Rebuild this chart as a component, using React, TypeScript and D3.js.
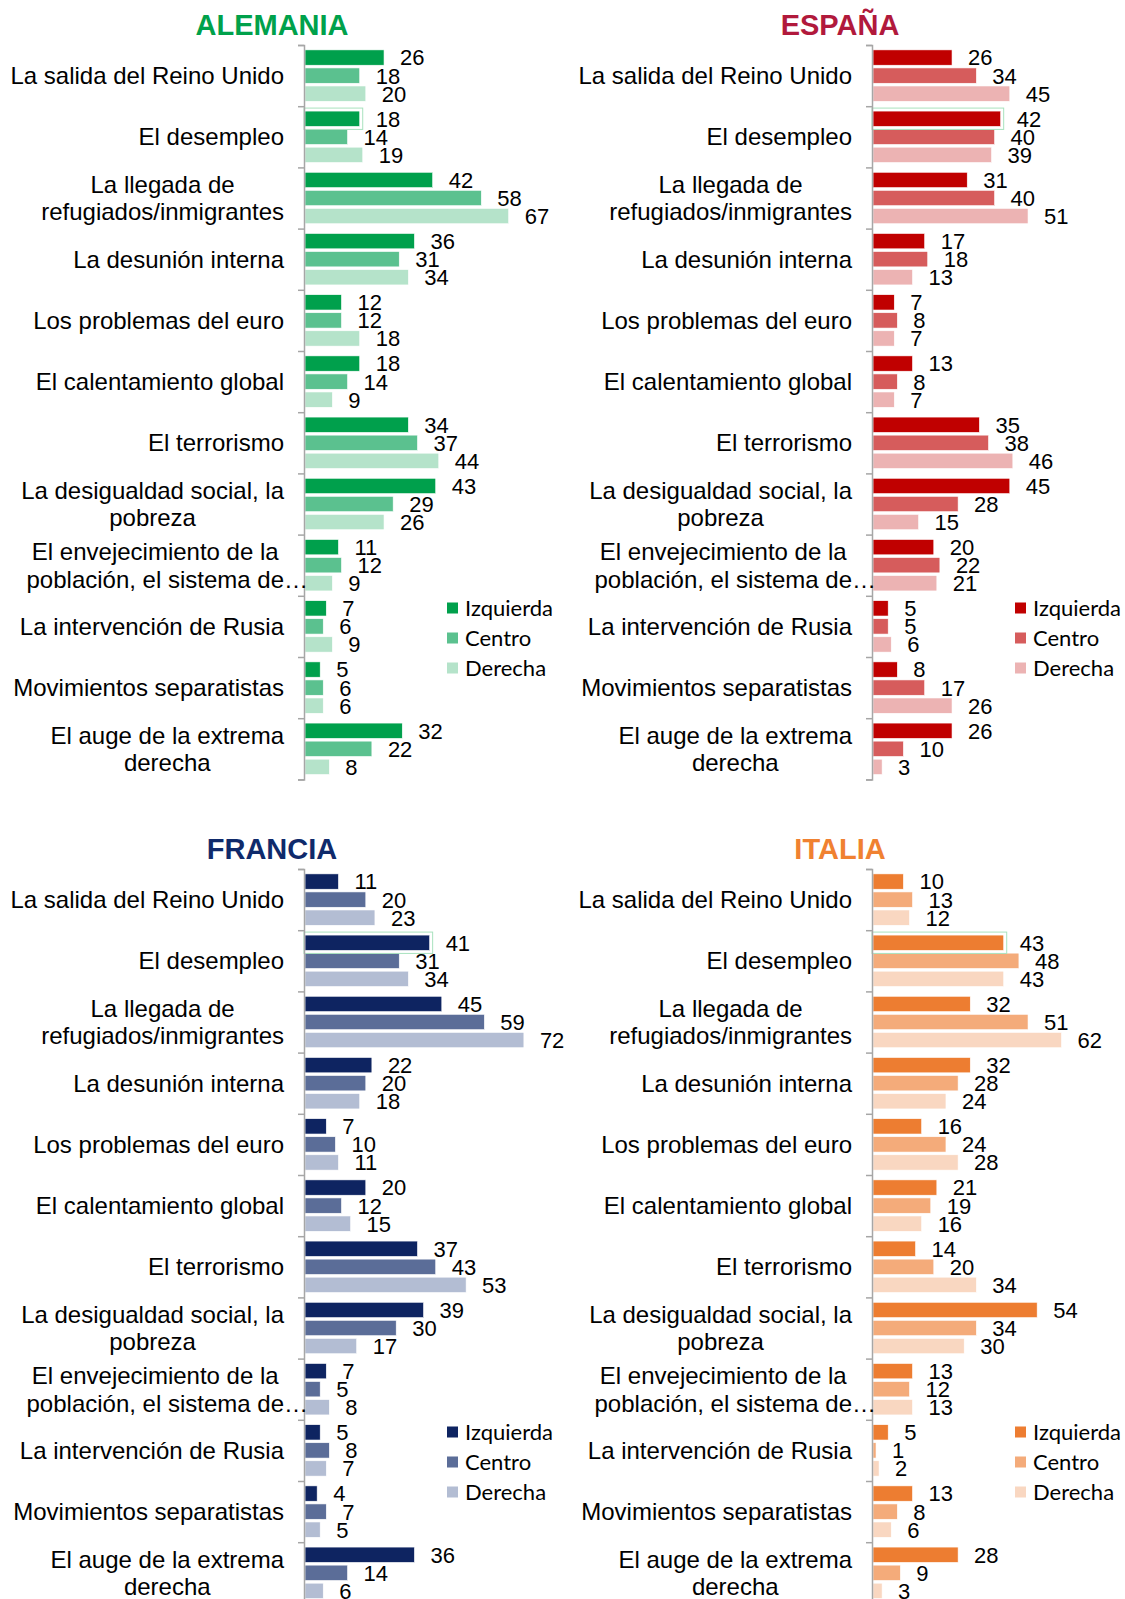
import React, { useEffect, useRef } from 'react';
import * as d3 from 'd3';

const categories = [
  'La salida del Reino Unido',
  'El desempleo',
  'La llegada de\nrefugiados/inmigrantes',
  'La desunión interna',
  'Los problemas del euro',
  'El calentamiento global',
  'El terrorismo',
  'La desigualdad social, la\npobreza',
  'El envejecimiento de la\npoblación, el sistema de…',
  'La intervención de Rusia',
  'Movimientos separatistas',
  'El auge de la extrema\nderecha',
];
const series = ['Izquierda', 'Centro', 'Derecha'];

const alemaniaIzquierda = [26, 18, 42, 36, 12, 18, 34, 43, 11, 7, 5, 32];
const alemaniaCentro = [18, 14, 58, 31, 12, 14, 37, 29, 12, 6, 6, 22];
const alemaniaDerecha = [20, 19, 67, 34, 18, 9, 44, 26, 9, 9, 6, 8];

const espanaIzquierda = [26, 42, 31, 17, 7, 13, 35, 45, 20, 5, 8, 26];
const espanaCentro = [34, 40, 40, 18, 8, 8, 38, 28, 22, 5, 17, 10];
const espanaDerecha = [45, 39, 51, 13, 7, 7, 46, 15, 21, 6, 26, 3];

const franciaIzquierda = [11, 41, 45, 22, 7, 20, 37, 39, 7, 5, 4, 36];
const franciaCentro = [20, 31, 59, 20, 10, 12, 43, 30, 5, 8, 7, 14];
const franciaDerecha = [23, 34, 72, 18, 11, 15, 53, 17, 8, 7, 5, 6];

const italiaIzquierda = [10, 43, 32, 32, 16, 21, 14, 54, 13, 5, 13, 28];
const italiaCentro = [13, 48, 51, 28, 24, 19, 20, 34, 12, 1, 8, 9];
const italiaDerecha = [12, 43, 62, 24, 28, 16, 34, 30, 13, 2, 6, 3];

const panels = [
  { title: 'ALEMANIA', titleColor: '#00A14B', colors: ['#00A04C', '#5BC18F', '#B5E3CA'],
    values: [alemaniaIzquierda, alemaniaCentro, alemaniaDerecha], dx: 0, dy: 0 },
  { title: 'ESPAÑA', titleColor: '#B1193C', colors: ['#C00000', '#D65C5C', '#ECB3B3'],
    values: [espanaIzquierda, espanaCentro, espanaDerecha], dx: 568, dy: 0 },
  { title: 'FRANCIA', titleColor: '#0F2A6B', colors: ['#0E2461', '#5B6D98', '#B3BDD3'],
    values: [franciaIzquierda, franciaCentro, franciaDerecha], dx: 0, dy: 824 },
  { title: 'ITALIA', titleColor: '#F08131', colors: ['#ED7D31', '#F4AB7A', '#F9D7C1'],
    values: [italiaIzquierda, italiaCentro, italiaDerecha], dx: 568, dy: 824 },
];

const W = 1125, H = 1599;

const App = () => {
  const ref = useRef<SVGSVGElement>(null);

  const draw = () => {
    const svg = d3.select(ref.current);
    svg.selectAll('*').remove();

    const axisX = 304;
    const top = 45, step = 61.2;
    const font = 'Liberation Sans, Arial, sans-serif';

    const y = d3.scaleBand().domain(categories).range([top, top + step * categories.length]);
    const yInner = d3.scaleBand().domain(series).range([0, y.bandwidth()])
      .paddingInner(0.15).paddingOuter(0.27);
    const x = d3.scaleLinear().domain([0, 100]).range([axisX + 1, axisX + 1 + 304]);
    const yTicks = d3.scaleLinear().domain([0, categories.length]).range([top, top + step * categories.length]);

    panels.forEach(p => {
      const g = svg.append('g').attr('transform', `translate(${p.dx},${p.dy})`);

      g.append('text')
        .attr('x', axisX - 32).attr('y', 34.5)
        .attr('text-anchor', 'middle')
        .style('font', `bold 29px ${font}`)
        .style('fill', p.titleColor)
        .text(p.title);

      // bars
      series.forEach((s, si) => {
        g.selectAll(`rect.s${si}`)
          .data(p.values[si])
          .enter()
          .append('rect')
          .attr('class', `s${si}`)
          .attr('x', x(0))
          .attr('y', (d, i) => y(categories[i])! + yInner(s)!)
          .attr('width', d => x(d) - x(0))
          .attr('height', yInner.bandwidth())
          .attr('fill', p.colors[si])
          .attr('stroke', '#fff')
          .attr('stroke-width', 0.6);

        g.selectAll(`text.v${si}`)
          .data(p.values[si])
          .enter()
          .append('text')
          .attr('class', `v${si}`)
          .attr('x', d => x(d) + 16)
          .attr('y', (d, i) => y(categories[i])! + yInner(s)! + yInner.bandwidth() / 2)
          .attr('dy', '0.36em')
          .style('font', `22px ${font}`)
          .style('fill', '#000')
          .text(d => d);
      });

      // leftover selection box from the source sheet
      const sel = p.values[0][1];
      g.append('rect')
        .attr('x', x(0) - 1)
        .attr('y', y(categories[1])! + yInner('Izquierda')! - 3)
        .attr('width', x(sel) - x(0) + 4)
        .attr('height', yInner.bandwidth() + 6)
        .attr('fill', 'none')
        .attr('stroke', '#A8E2BE')
        .attr('stroke-width', 1);

      // axis
      const ax = g.append('g')
        .attr('transform', `translate(${axisX},0)`)
        .call(d3.axisLeft(yTicks).ticks(categories.length).tickFormat(() => '').tickSize(6).tickSizeOuter(6));
      ax.select('.domain').attr('stroke', '#A6A6A6').attr('stroke-width', 1.5);
      ax.selectAll('.tick line').attr('stroke', '#A6A6A6').attr('stroke-width', 1.5);

      // category labels
      categories.forEach(c => {
        const lines = c.split('\n');
        const cy = y(c)! + y.bandwidth() / 2;
        const right = axisX - 20;
        const texts = lines.map((l, li) => g.append('text')
          .attr('y', cy + (li - (lines.length - 1) / 2) * 27.5)
          .attr('dy', '0.36em')
          .style('font', `24px ${font}`)
          .style('fill', '#000')
          .text(l.replace('…', '')));
        const widths = texts.map(t => (t.node() as SVGTextElement).getComputedTextLength());
        const block = d3.max(widths)!;
        const cx = right - block / 2;
        texts.forEach((t, ti) => {
          t.attr('x', cx - widths[ti] / 2).text(lines[ti]);
        });
      });

      // legend
      series.forEach((s, si) => {
        const ly = 608 + si * 30;
        g.append('rect')
          .attr('x', axisX + 143).attr('y', ly - 5.5)
          .attr('width', 11).attr('height', 11)
          .attr('fill', p.colors[si]);
        g.append('text')
          .attr('x', axisX + 161).attr('y', ly)
          .attr('dy', '0.36em')
          .style('font', '22px Lato, sans-serif')
          .style('fill', '#000')
          .text(s);
      });
    });
  };

  useEffect(() => draw());

  return (
    <>
      <style>{'body{margin:0}'}</style>
      <svg ref={ref} width={W} height={H} style={{ display: 'block', background: '#fff' }}></svg>
    </>
  );
};

export default App;
